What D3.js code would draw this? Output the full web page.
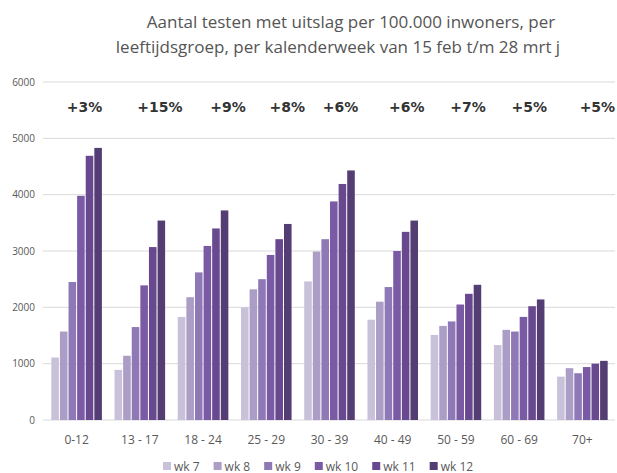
<!DOCTYPE html>
<html>
<head>
<meta charset="utf-8">
<script src="https://cdn.jsdelivr.net/npm/d3@7"></script>
<style>
  body { margin: 0; background: #fff; }
  text { font-family: "Open Sans", "Liberation Sans", sans-serif; }
</style>
</head>
<body>
<div id="chart"></div>
<script>
// data
const ageGroups = ['0-12', '13 - 17', '18 - 24', '25 - 29', '30 - 39', '40 - 49', '50 - 59', '60 - 69', '70+']
const weeks = ['wk 7', 'wk 8', 'wk 9', 'wk 10', 'wk 11', 'wk 12']
const wk7  = [1110, 890, 1830, 2000, 2460, 1780, 1510, 1330, 770]
const wk8  = [1570, 1140, 2180, 2320, 2990, 2100, 1670, 1600, 920]
const wk9  = [2450, 1650, 2620, 2500, 3210, 2360, 1750, 1570, 830]
const wk10 = [3980, 2390, 3090, 2930, 3880, 3000, 2050, 1830, 940]
const wk11 = [4690, 3070, 3400, 3210, 4190, 3340, 2240, 2020, 1000]
const wk12 = [4830, 3540, 3720, 3480, 4430, 3540, 2400, 2140, 1050]
const changeLabels = ['+3%', '+15%', '+9%', '+8%', '+6%', '+6%', '+7%', '+5%', '+5%']
const yTicks = [0, 1000, 2000, 3000, 4000, 5000, 6000]

const series = [wk7, wk8, wk9, wk10, wk11, wk12]
const colors = ['#c9c1da', '#ab9dc6', '#8f78b6', '#7a5aa5', '#68488f', '#533d73']
// manual nudges of the percent labels, as in the original slide
const labelNudge = [8, 20, 25, 21, 11, 14, 12, 10, 15]

const W = 617, H = 473
const svg = d3.select('#chart').append('svg').attr('width', W).attr('height', H)

const x = d3.scaleBand().domain(ageGroups).range([45, 614]).paddingInner(0.2).paddingOuter(0.1)
const xw = d3.scaleBand().domain(weeks).range([0, x.bandwidth()]).paddingInner(0.12)
const y = d3.scaleLinear().domain([0, 6000]).range([420, 82])

// title
const title = svg.append('text').attr('fill', '#555').attr('font-size', 17).attr('text-anchor', 'middle')
title.append('tspan').attr('x', 351).attr('y', 28).text('Aantal testen met uitslag per 100.000 inwoners, per')
title.append('tspan').attr('x', 338).attr('y', 53).text('leeftijdsgroep, per kalenderweek van 15 feb t/m 28 mrt j')

// grid
svg.append('g').selectAll('line').data(yTicks).join('line')
  .attr('x1', 43).attr('x2', 615)
  .attr('y1', d => y(d)).attr('y2', d => y(d))
  .attr('stroke', '#d9d9d9').attr('stroke-width', 1)

// y labels
svg.append('g').selectAll('text').data(yTicks).join('text')
  .attr('x', 35).attr('y', d => y(d)).attr('dy', '0.35em')
  .attr('text-anchor', 'end').attr('font-size', 10).attr('fill', '#595959')
  .text(d => d)

// bars
const groups = svg.append('g').selectAll('g').data(ageGroups).join('g')
  .attr('transform', d => `translate(${x(d)},0)`)
groups.selectAll('rect').data((g, i) => weeks.map((w, j) => ({w, j, v: series[j][i]}))).join('rect')
  .attr('x', d => xw(d.w)).attr('width', xw.bandwidth())
  .attr('y', d => y(d.v)).attr('height', d => y(0) - y(d.v))
  .attr('fill', d => colors[d.j])

// percent labels
svg.append('g').selectAll('text').data(changeLabels).join('text')
  .attr('x', (d, i) => x(ageGroups[i]) + x.bandwidth() / 2 + labelNudge[i])
  .attr('y', 112).attr('text-anchor', 'middle')
  .style('font-family', '"DejaVu Sans", sans-serif')
  .attr('font-size', 14).attr('font-weight', 'bold').attr('fill', '#333')
  .text(d => d)

// x labels
svg.append('g').selectAll('text').data(ageGroups).join('text')
  .attr('x', d => x(d) + x.bandwidth() / 2).attr('y', 444)
  .attr('text-anchor', 'middle').attr('font-size', 12).attr('fill', '#595959')
  .text(d => d)

// legend
const legend = svg.append('g')
let lx = 163
weeks.forEach((w, j) => {
  legend.append('rect').attr('x', lx).attr('y', 462).attr('width', 8).attr('height', 8).attr('fill', colors[j])
  const t = legend.append('text').attr('x', lx + 11).attr('y', 470.5)
    .attr('font-size', 12).attr('fill', '#595959').text(w)
  lx += 11 + t.node().getComputedTextLength() + 14
})
</script>
</body>
</html>
